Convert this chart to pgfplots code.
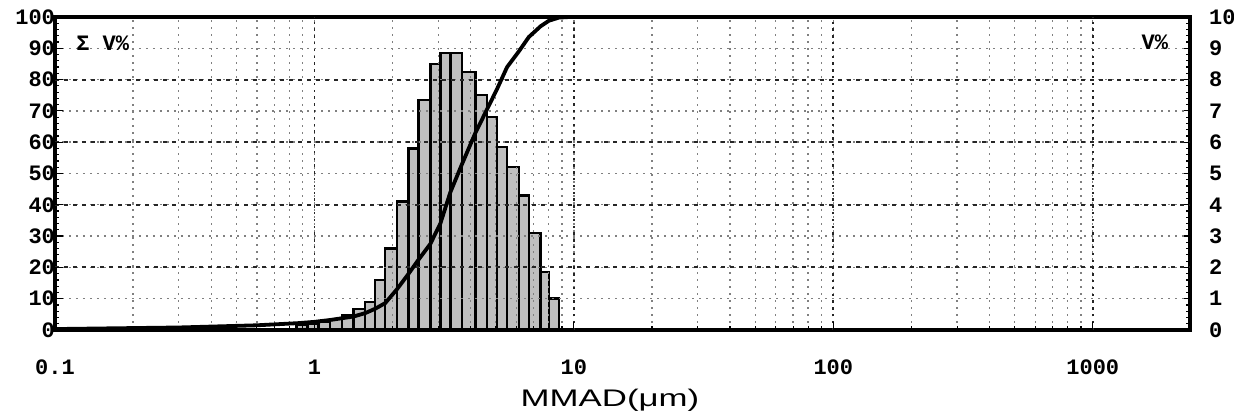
\documentclass[border=0pt]{standalone}
\usepackage{fontspec}
\setmainfont{Liberation Sans}
\setmonofont{Liberation Mono}
\usepackage{pgfplots}
\pgfplotsset{compat=1.18}

\begin{document}
\begin{tikzpicture}
% ---- histogram (right axis, V%) ----
\begin{semilogxaxis}[
  scale only axis, width=567.5pt, height=156.5pt,
  xmin=0.1, xmax=2370, ymin=0, ymax=10,
  axis line style={draw=none},
  xtick=\empty,
  ytick={0,1,...,10}, minor y tick num=4,
  ytick pos=right, yticklabel pos=right,
  tick align=inside,
  major tick length=4pt, minor tick length=2pt,
  tick style={black, line width=0.6pt},
  /pgf/number format/assume math mode=true,
  yticklabel style={font=\ttfamily\bfseries\fontsize{11}{11}\selectfont, xshift=6pt},
]
\addplot[ybar interval, fill=gray!50, draw=black, line width=1.2pt] coordinates {
(0.852,0.15) (0.939,0.2) (1.036,0.26) (1.150,0.35) (1.274,0.48) (1.414,0.68) (1.570,0.9)
(1.716,1.6) (1.875,2.6) (2.079,4.1) (2.307,5.8) (2.520,7.35) (2.797,8.5) (3.057,8.85)
(3.341,8.85) (3.705,8.25) (4.173,7.5) (4.627,6.8) (5.057,5.85) (5.527,5.2) (6.134,4.3)
(6.705,3.1) (7.435,1.85) (8.008,1.0) (8.752,0)
};
\end{semilogxaxis}
% ---- cumulative (left axis, Sigma V%) ----
\begin{semilogxaxis}[
  name=main,
  scale only axis, width=567.5pt, height=156.5pt,
  xmin=0.1, xmax=2370, ymin=0, ymax=100,
  axis line style={line width=2.2pt, black},
  xtick={0.1,1,10,100,1000}, xticklabels={0.1,1,10,100,1000},
  minor xtick={0.2,0.3,0.4,0.5,0.6,0.7,0.8,0.9,2,3,4,5,6,7,8,9,20,30,40,50,60,70,80,90,200,300,400,500,600,700,800,900},
  ytick={0,10,...,100}, minor y tick num=4,
  ytick pos=left, xtick pos=bottom,
  tick align=inside,
  major tick length=4pt, minor tick length=2pt,
  tick style={black, line width=0.6pt},
  xmajorgrids, xminorgrids, ymajorgrids,
  major grid style={black!50, dash pattern=on 1pt off 2.5pt, line width=0.7pt},
  minor grid style={black!50, dash pattern=on 1pt off 2.5pt, line width=0.7pt},
  extra x ticks={1,10,100,1000}, extra x tick labels={},
  extra x tick style={major grid style={black!85, dash pattern=on 1.2pt off 2.2pt, line width=0.9pt}},
  extra y ticks={20,40,60,80}, extra y tick labels={},
  extra y tick style={major grid style={black!85, dash pattern=on 2pt off 2.5pt, line width=1pt}},
  /pgf/number format/assume math mode=true,
  yticklabel style={font=\ttfamily\bfseries\fontsize{11}{11}\selectfont, xshift=3.5pt},
  xticklabel style={font=\ttfamily\bfseries\fontsize{11}{11}\selectfont, anchor=center, yshift=-18.5pt},
  xlabel={\scalebox{1.45}[1]{MMAD(μm)}},
  xlabel style={font=\fontsize{12}{12}\selectfont, at={(rel axis cs:0.489,0)}, anchor=center, yshift=-35pt},
]
\addplot[black, line width=1.9pt] coordinates {
(0.1,0.3) (0.3,0.8) (0.6,1.5) (0.87,2.2) (1.0,2.6) (1.15,3.2) (1.414,4.3) (1.57,5.4)
(1.716,6.8) (1.875,8.6) (2.079,13) (2.307,18) (2.52,22.5) (2.797,27.5) (3.057,34)
(3.341,44) (3.705,53) (4.173,63) (4.627,70.5) (5.057,77) (5.527,84) (6.134,89)
(6.705,93.6) (7.435,97) (8.008,98.8) (8.752,99.8) (9.6,100) (113,100)
};
\node[font=\ttfamily\bfseries\fontsize{11}{11}\selectfont] at (rel axis cs:0.042,0.917) {Σ V\%};
\node[font=\ttfamily\bfseries\fontsize{11}{11}\selectfont] at (rel axis cs:0.969,0.92) {V\%};
\end{semilogxaxis}
\pgfresetboundingbox
\path ([shift={(-27.5pt,-45pt)}]main.south west) rectangle ([shift={(22pt,8.5pt)}]main.north east);
\end{tikzpicture}
\end{document}
